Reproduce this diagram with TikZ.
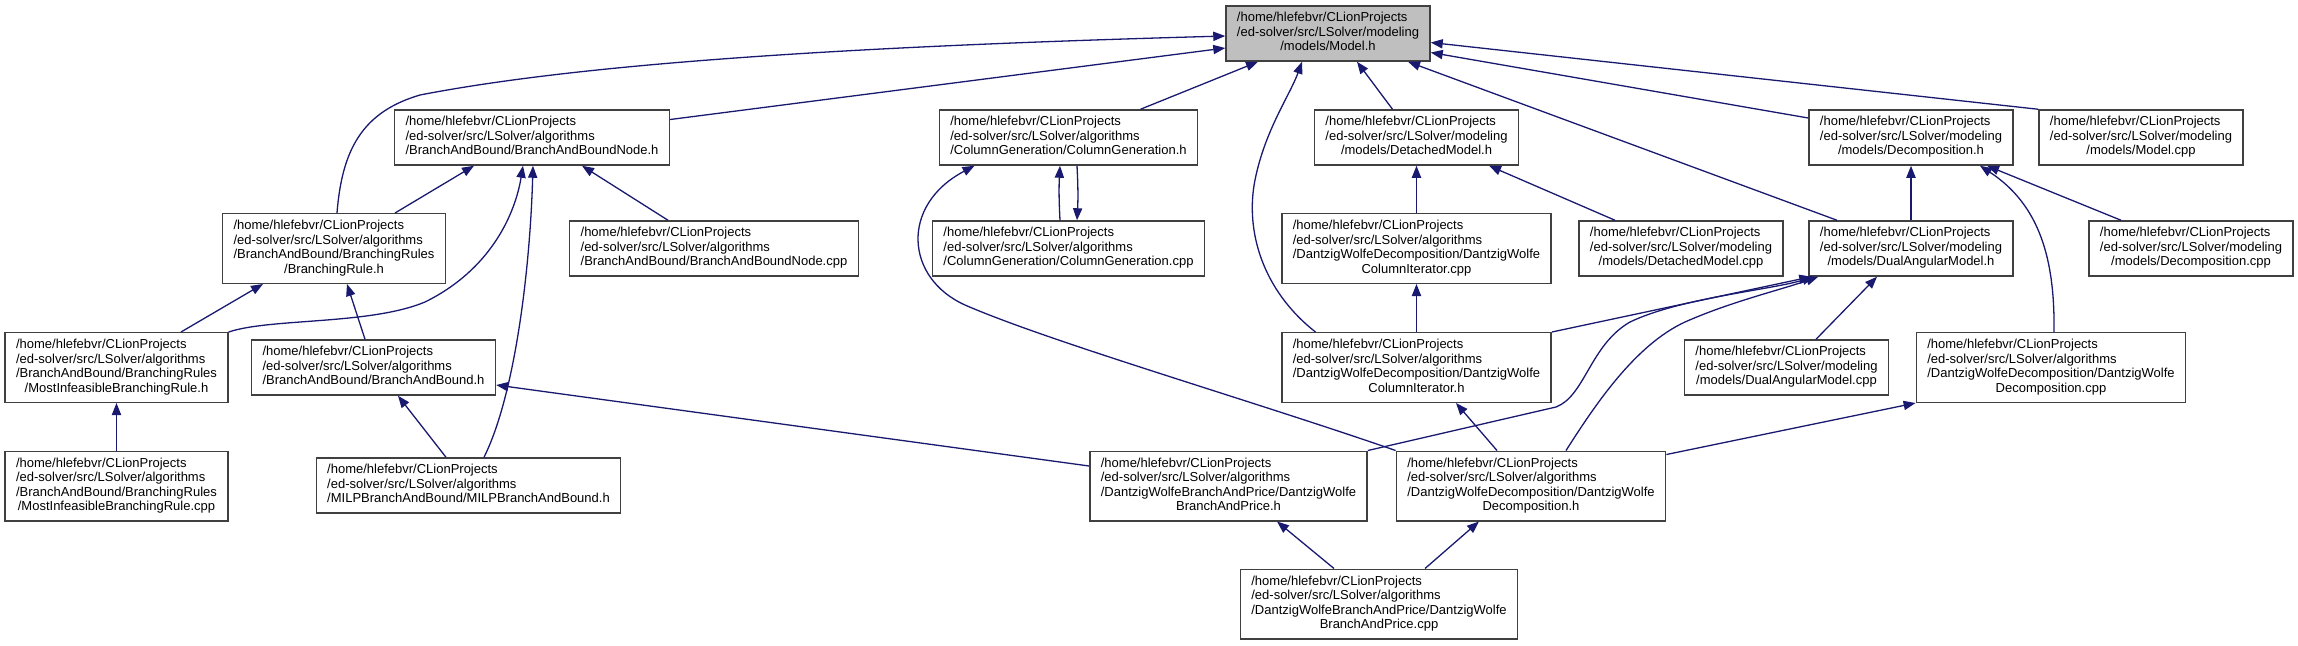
\documentclass[tikz,border=0pt]{standalone}
\usepackage{fontspec}
\setmainfont{Liberation Sans}
\usepackage{tikz}
\usetikzlibrary{arrows.meta}

\definecolor{edgeblue}{HTML}{191970}
\definecolor{nodegray}{HTML}{BFBFBF}
\definecolor{nodeline}{HTML}{404040}

\newcommand{\algfile}[2]{\begin{tabular}{@{}l@{}}/home/hlefebvr/CLionProjects\\/ed-solver/src/LSolver/algorithms#1\\\multicolumn{1}{@{}c@{}}{#2}\end{tabular}}
\newcommand{\modfile}[1]{\begin{tabular}{@{}l@{}}/home/hlefebvr/CLionProjects\\/ed-solver/src/LSolver/modeling\\\multicolumn{1}{@{}c@{}}{/models/#1}\end{tabular}}

\begin{document}
\begin{tikzpicture}[
			x=0.5pt,
			y=-0.5pt,
			filebox/.style={draw=nodeline, line width=0.7pt, fill=white, inner xsep=5.5pt, inner ysep=2.9pt, font=\fontsize{6.5}{7.25}\selectfont},
			mainfile/.style={filebox, fill=nodegray},
			incl/.style={edgeblue, line width=0.65pt, -{Triangle[length=6pt,width=4.6pt]}}
		]
		\useasboundingbox (0,0) rectangle (2298,645);

		% rows of files
		\node[mainfile] (model) at (1328,33.5) {\modfile{Model.h}};

		\node[filebox] (bbnodeh) at (532,137.5) {\algfile{}{/BranchAndBound/BranchAndBoundNode.h}};
		\node[filebox] (cgh) at (1068.5,137.5) {\algfile{}{/ColumnGeneration/ColumnGeneration.h}};
		\node[filebox] (detachedh) at (1416.5,137.5) {\modfile{DetachedModel.h}};
		\node[filebox] (decomph) at (1911,137.5) {\modfile{Decomposition.h}};
		\node[filebox] (modelcpp) at (2141,137.5) {\modfile{Model.cpp}};

		\node[filebox] (brule) at (334,248.5) {\algfile{\\/BranchAndBound/BranchingRules}{/BranchingRule.h}};
		\node[filebox] (bbnodecpp) at (714,248.5) {\algfile{}{/BranchAndBound/BranchAndBoundNode.cpp}};
		\node[filebox] (cgcpp) at (1068.5,248.5) {\algfile{}{/ColumnGeneration/ColumnGeneration.cpp}};
		\node[filebox] (coliterpp) at (1416.5,248.5) {\algfile{\\/DantzigWolfeDecomposition/DantzigWolfe}{ColumnIterator.cpp}};
		\node[filebox] (detachedcpp) at (1681,248.5) {\modfile{DetachedModel.cpp}};
		\node[filebox] (dualh) at (1911,248.5) {\modfile{DualAngularModel.h}};
		\node[filebox] (decompcpp) at (2191,248.5) {\modfile{Decomposition.cpp}};

		\node[filebox] (mostinfh) at (116.5,367.5) {\algfile{\\/BranchAndBound/BranchingRules}{/MostInfeasibleBranchingRule.h}};
		\node[filebox] (bbh) at (373.5,367.5) {\algfile{}{/BranchAndBound/BranchAndBound.h}};
		\node[filebox] (coliterh) at (1416.5,367.5) {\algfile{\\/DantzigWolfeDecomposition/DantzigWolfe}{ColumnIterator.h}};
		\node[filebox] (dualcpp) at (1786.5,367.5) {\modfile{DualAngularModel.cpp}};
		\node[filebox] (dwdecompcpp) at (2051,367.5) {\algfile{\\/DantzigWolfeDecomposition/DantzigWolfe}{Decomposition.cpp}};

		\node[filebox] (mostinfcpp) at (116.5,486) {\algfile{\\/BranchAndBound/BranchingRules}{/MostInfeasibleBranchingRule.cpp}};
		\node[filebox] (milph) at (468.5,485.5) {\algfile{}{/MILPBranchAndBound/MILPBranchAndBound.h}};
		\node[filebox] (baph) at (1228.5,486) {\algfile{\\/DantzigWolfeBranchAndPrice/DantzigWolfe}{BranchAndPrice.h}};
		\node[filebox] (dwdecomph) at (1531,486) {\algfile{\\/DantzigWolfeDecomposition/DantzigWolfe}{Decomposition.h}};

		\node[filebox] (bapcpp) at (1379,604) {\algfile{\\/DantzigWolfeBranchAndPrice/DantzigWolfe}{BranchAndPrice.cpp}};

		% includes of Model.h
		\draw[incl] ([xshift=1.5pt]brule.north) .. controls (342,150) and (362,112) .. (420,95) .. controls (600,60) and (900,45) .. ([yshift=-1.25pt]model.west);
		\draw[incl] ([yshift=9pt]bbnodeh.east) -- ([yshift=-7.25pt]model.west);
		\draw[incl] ([xshift=36pt]cgh.north) -- ([xshift=-35pt]model.south);
		\draw[incl] ([xshift=-50.5pt]coliterh.north) .. controls (1262,290) and (1245,230) .. (1255,180) .. controls (1265,130) and (1290,95) .. ([xshift=-13pt]model.south);
		\draw[incl] ([xshift=-12pt]detachedh.north) -- ([xshift=14.5pt]model.south);
		\draw[incl] ([xshift=-37pt]dualh.north) -- ([xshift=40pt]model.south);
		\draw[incl] ([yshift=9.75pt]decomph.west) -- ([yshift=-9.5pt]model.east);
		\draw[incl] (modelcpp.north west) -- ([yshift=-4.5pt]model.east);

		% branch and bound
		\draw[incl] ([xshift=30.5pt]brule.north) -- ([xshift=-29pt]bbnodeh.south);
		\draw[incl] (mostinfh.north east) .. controls (270,318) and (370,325) .. (425,302) .. controls (490,270) and (515,215) .. ([xshift=-4.5pt]bbnodeh.south);
		\draw[incl] ([xshift=7.75pt]milph.north) .. controls (515,395) and (530,270) .. ([xshift=0.5pt]bbnodeh.south);
		\draw[incl] ([xshift=-23pt]bbnodecpp.north) -- ([xshift=25pt]bbnodeh.south);
		\draw[incl] ([xshift=32.25pt]mostinfh.north) -- ([xshift=-35.5pt]brule.south);
		\draw[incl] ([xshift=-4.25pt]bbh.north) -- ([xshift=6.5pt]brule.south);
		\draw[incl] (mostinfcpp) -- (mostinfh);
		\draw[incl] ([xshift=-11.25pt]milph.north) -- ([xshift=12.25pt]bbh.south);
		\draw[incl] ([yshift=10pt]baph.west) -- ([yshift=-8.75pt]bbh.east);

		% column generation
		\draw[incl] ([xshift=-4.25pt]cgcpp.north) to[bend left=3] ([xshift=-4.25pt]cgh.south);
		\draw[incl] ([xshift=4.25pt]cgh.south) to[bend left=3] ([xshift=4.25pt]cgcpp.north);
		\draw[incl] (dwdecomph.north west) .. controls (1250,400) and (1050,342) .. (965,305) .. controls (905,278) and (900,205) .. ([xshift=-47pt]cgh.south);

		% models and dantzig wolfe
		\draw[incl] (coliterpp) -- (detachedh);
		\draw[incl] ([xshift=-33pt]detachedcpp.north) -- ([xshift=36.25pt]detachedh.south);
		\draw[incl] (coliterh) -- (coliterpp);
		\draw[incl] (dualh) -- (decomph);
		\draw[incl] ([xshift=-35pt]decompcpp.north) -- ([xshift=38pt]decomph.south);
		\draw[incl] ([xshift=1.5pt]dwdecompcpp.north) .. controls (2055,260) and (2040,205) .. ([xshift=34.5pt]decomph.south);
		\draw[incl] ([xshift=14.75pt]dualcpp.north) -- ([xshift=-17pt]dualh.south);
		\draw[incl] (coliterh.north east) -- ([xshift=1.5pt]dualh.south west);
		\draw[incl] (baph.north east) -- (1556,407) .. controls (1585,396) and (1590,345) .. (1630,322) .. controls (1680,298) and (1770,290) .. ([xshift=3pt]dualh.south west);
		\draw[incl] ([xshift=17.5pt]dwdecomph.north) .. controls (1595,405) and (1635,345) .. (1685,322) .. controls (1730,302) and (1780,290) .. ([xshift=5pt]dualh.south west);
		\draw[incl] ([xshift=-17pt]dwdecomph.north) -- ([xshift=19.75pt]coliterh.south);
		\draw[incl] ([yshift=-2pt]dwdecomph.north east) -- (dwdecompcpp.south west);
		\draw[incl] ([xshift=-22.5pt]bapcpp.north) -- ([xshift=24.25pt]baph.south);
		\draw[incl] ([xshift=23pt]bapcpp.north) -- ([xshift=-26pt]dwdecomph.south);
	\end{tikzpicture}
\end{document}
